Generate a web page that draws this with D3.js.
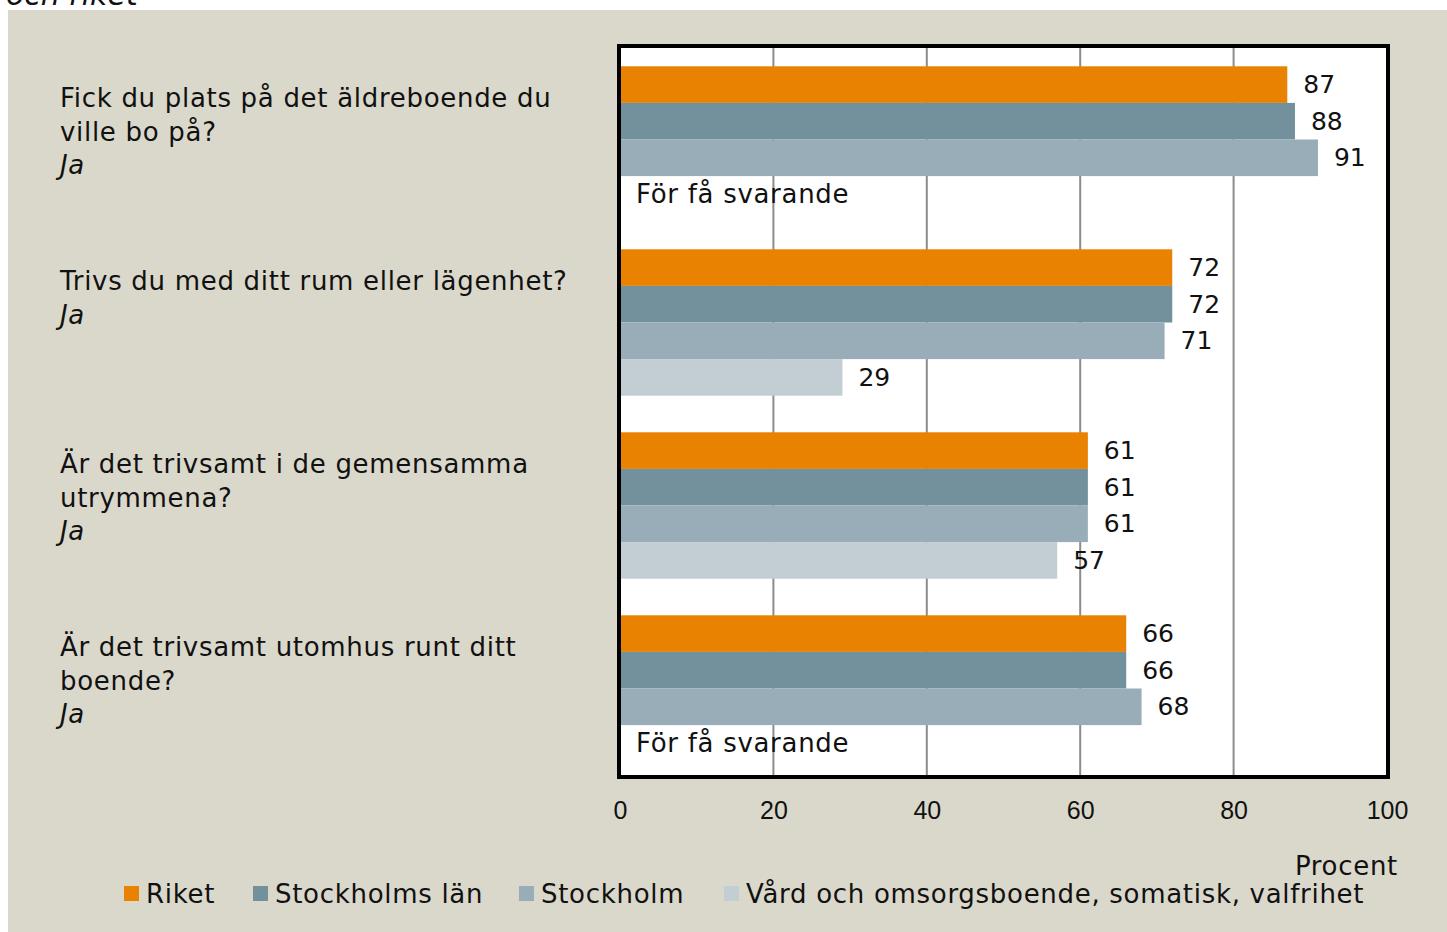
<!DOCTYPE html>
<html>
<head>
<meta charset="utf-8">
<script src="https://cdn.jsdelivr.net/npm/d3@7"></script>
<style>
  body { margin: 0; background: #fff; }
  svg { display: block; font-family: "DejaVu Sans", sans-serif; }
  .lbl { letter-spacing: 0.7px; }
</style>
</head>
<body>
<svg id="chart"></svg>
<script>
// data
const questions = [
  ["Fick du plats på det äldreboende du", "ville bo på?"],
  ["Trivs du med ditt rum eller lägenhet?"],
  ["Är det trivsamt i de gemensamma", "utrymmena?"],
  ["Är det trivsamt utomhus runt ditt", "boende?"]
];
const answer = "Ja";
const series = ["Riket", "Stockholms län", "Stockholm", "Vård och omsorgsboende, somatisk, valfrihet"];
const riket = [87, 72, 61, 66];
const stockholmsLan = [88, 72, 61, 66];
const stockholm = [91, 71, 61, 68];
const vardBoende = [null, 29, 57, null];
const xTicks = [0, 20, 40, 60, 80, 100];
const missingText = "För få svarande";

const colors = ["#e88200", "#73909d", "#99adb8", "#c3ced4"];
const W = 1447, H = 932;
const FS = 26;
const svg = d3.select("#chart").attr("width", W).attr("height", H);

// beige panel
svg.append("rect").attr("x", 8).attr("y", 10).attr("width", W - 8).attr("height", H - 10).attr("fill", "#dad8cb");
svg.append("text").attr("x", 6).attr("y", 5).attr("font-size", 30).attr("font-style", "italic")
  .attr("fill", "#111").text("och riket");

const plot = { left: 620, right: 1387, top: 48, bottom: 775 };
const x = d3.scaleLinear().domain([0, 100]).range([plot.left, plot.right]);
const cats = questions.map((q, i) => i);
const y0 = d3.scaleBand().domain(cats).range([48, 780]).paddingInner(0.2).paddingOuter(0.1);
const y1 = d3.scaleBand().domain(series).range([0, y0.bandwidth()]);

// plot background + grid
svg.append("rect").attr("x", 619).attr("y", 46).attr("width", 769).attr("height", 731).attr("fill", "#fff");
svg.append("g").selectAll("line").data(xTicks.slice(1, -1)).join("line")
  .attr("x1", d => x(d)).attr("x2", d => x(d)).attr("y1", 48).attr("y2", 775)
  .attr("stroke", "#8c8c8c").attr("stroke-width", 2);

const rows = cats.map(i => ({
  cat: i,
  vals: [riket[i], stockholmsLan[i], stockholm[i], vardBoende[i]]
}));

const grp = svg.append("g").selectAll("g").data(rows).join("g")
  .attr("transform", d => `translate(0,${y0(d.cat)})`);

grp.selectAll("rect").data(d => d.vals.map((v, j) => ({ v, s: series[j], j })).filter(e => e.v != null))
  .join("rect")
  .attr("x", x(0)).attr("y", e => y1(e.s))
  .attr("width", e => x(e.v) - x(0)).attr("height", y1.bandwidth())
  .attr("fill", e => colors[e.j]);

grp.selectAll("text.val").data(d => d.vals.map((v, j) => ({ v, s: series[j], j })).filter(e => e.v != null))
  .join("text").attr("class", "val")
  .attr("x", e => x(e.v) + 16).attr("y", e => y1(e.s) + y1.bandwidth() / 2)
  .attr("dominant-baseline", "central").attr("font-size", 25).attr("fill", "#111")
  .text(e => e.v);

grp.filter(d => d.vals[3] == null).append("text").attr("class", "lbl")
  .attr("x", x(0) + 16).attr("y", y1(series[3]) + y1.bandwidth() / 2)
  .attr("dominant-baseline", "central").attr("font-size", FS).attr("fill", "#111")
  .text(missingText);

// frame
svg.append("rect").attr("x", 619).attr("y", 46).attr("width", 769).attr("height", 731)
  .attr("fill", "none").attr("stroke", "#000").attr("stroke-width", 4);

// question labels
const ql = svg.append("g").selectAll("text").data(rows).join("text").attr("class", "lbl")
  .attr("font-size", FS).attr("fill", "#111");
ql.each(function (d) {
  const t = d3.select(this);
  const base = y0(d.cat) + 32;
  questions[d.cat].forEach((line, k) => {
    t.append("tspan").attr("x", 60).attr("y", base + k * 33.5).attr("dominant-baseline", "central").text(line);
  });
  t.append("tspan").attr("x", 60).attr("y", base + questions[d.cat].length * 33.5)
    .attr("dominant-baseline", "central").attr("font-style", "italic").text(answer);
});

// x axis
const ax = svg.append("g").attr("transform", `translate(0,800)`)
  .call(d3.axisBottom(x).tickValues(xTicks).tickSize(0).tickPadding(0));
ax.select(".domain").remove();
ax.selectAll("text").attr("font-size", 25).attr("fill", "#111").attr("font-family", null).attr("dy", "0.75em");

svg.append("text").attr("class", "lbl").attr("x", 1398).attr("y", 866).attr("text-anchor", "end")
  .attr("dominant-baseline", "central").attr("font-size", FS).attr("fill", "#111").text("Procent");

// legend
const legX = [124, 253, 519, 724];
const leg = svg.append("g").selectAll("g").data(series).join("g")
  .attr("transform", (d, i) => `translate(${legX[i]},894)`);
leg.append("rect").attr("x", 0).attr("y", -8).attr("width", 15).attr("height", 15)
  .attr("fill", (d, i) => colors[i]);
leg.append("text").attr("class", "lbl").attr("x", 22).attr("y", 0).attr("dominant-baseline", "central")
  .attr("font-size", FS).attr("fill", "#111").text(d => d);
</script>
</body>
</html>
